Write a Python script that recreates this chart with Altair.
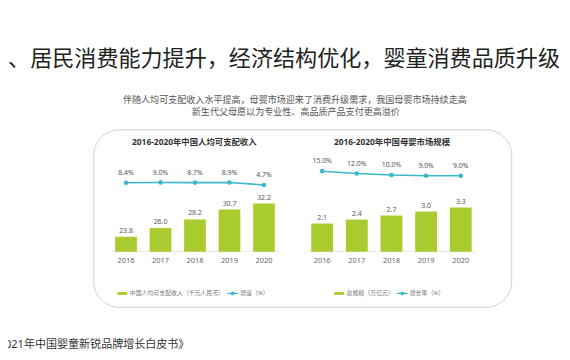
import altair as alt
import pandas as pd

# ---------------- data ----------------
years = ["2016", "2017", "2018", "2019", "2020"]
income = [23.8, 26.0, 28.2, 30.7, 32.2]          # 千元人民币
income_growth = [8.4, 9.0, 8.7, 8.9, 4.7]         # %
market = [2.1, 2.4, 2.7, 3.0, 3.3]                # 万亿元
market_growth = [15.0, 12.0, 10.0, 9.0, 9.0]      # %

title = "5、居民消费能力提升，经济结构优化，婴童消费品质升级"
subtitle = ["伴随人均可支配收入水平提高，母婴市场迎来了消费升级需求，我国母婴市场持续走高",
            "新生代父母愿以为专业性、高品质产品支付更高溢价"]
panel_titles = ["2016-2020年中国人均可支配收入", "2016-2020年中国母婴市场规模"]
legend_left = ["中国人均可支配收入（千元人民币）", "增速（%）"]
legend_right = ["总规模（万亿元）", "增长率（%）"]
source = "来源：《2021年中国婴童新锐品牌增长白皮书》"

# ---------------- style ----------------
GREEN = "#aacb2e"
TEAL = "#3bb7cc"
FONT = "Noto Sans, Noto Sans CJK SC, sans-serif"

left_df = pd.DataFrame({"year": years, "v": income, "g": income_growth})
left_df["vl"] = [f"{v:.1f}" for v in income]
left_df["gl"] = [f"{v:.1f}%" for v in income_growth]
right_df = pd.DataFrame({"year": years, "v": market, "g": market_growth})
right_df["vl"] = [f"{v:.1f}" for v in market]
right_df["gl"] = [f"{v:.1f}%" for v in market_growth]

one = pd.DataFrame({"k": [0]})


def txt(s, x, y, size, color="#333333", weight="normal", align="center"):
    return alt.Chart(one).mark_text(
        text=s, font=FONT, fontSize=size, color=color, fontWeight=weight,
        align=align, baseline="middle"
    ).encode(x=alt.value(x), y=alt.value(y))


def panel(df, xr, bar_dom, bar_rng, base, line_rng):
    xb = alt.X("year:O", axis=None,
               scale=alt.Scale(type="band", domain=years, range=xr,
                               paddingInner=0.37, paddingOuter=0.185))
    xp = alt.X("year:O", axis=None,
               scale=alt.Scale(type="point", domain=years, range=xr, padding=0.5))
    yb = alt.Y("v:Q", axis=None,
               scale=alt.Scale(domain=bar_dom, range=bar_rng, zero=False, nice=False))
    yl = alt.Y("g:Q", axis=None,
               scale=alt.Scale(domain=[0, 20], range=line_rng, zero=False, nice=False))
    c = alt.Chart(df)
    baseline = alt.Chart(one).mark_rule(color="#e8e8e8", strokeWidth=1).encode(
        x=alt.value(xr[0] + 2), x2=alt.value(xr[1] - 2),
        y=alt.value(bar_rng[0]))
    bars = c.mark_bar(color=GREEN).encode(x=xb, y=yb, y2=alt.datum(bar_dom[0]))
    bar_lab = c.mark_text(font=FONT, fontSize=7, color="#555555",
                          baseline="bottom", dy=-3).encode(x=xp, y=yb, text="vl:N")
    years_lab = c.mark_text(font=FONT, fontSize=7.5, color="#666666",
                            baseline="middle").encode(x=xp, y=alt.value(base), text="year:N")
    line = c.mark_line(color=TEAL, strokeWidth=1.6).encode(x=xp, y=yl)
    pts = c.mark_point(color=TEAL, filled=True, size=22, opacity=1).encode(x=xp, y=yl)
    line_lab = c.mark_text(font=FONT, fontSize=7, color="#555555",
                           baseline="middle", dy=-10).encode(x=xp, y=yl, text="gl:N")
    return [baseline, bars, bar_lab, years_lab, line, pts, line_lab]


# chart coordinates = page coordinates - 8 (page margin)
left_layers = panel(left_df, [102.2, 277.2], [20, 35], [244.7, 184.7], 253.7,
                    [179.8, 167.8])
right_layers = panel(right_df, [301.1, 476.9], [0, 4], [244.7, 190.3], 253.7,
                     [174.7, 159.1])

box = alt.Chart(one).mark_rect(
    fillOpacity=0, stroke="#cdd1cd", strokeWidth=1, cornerRadius=26
).encode(x=alt.value(87), x2=alt.value(511), y=alt.value(121), y2=alt.value(301))


def legend(x0, labels):
    sw = alt.Chart(one).mark_rect(color=GREEN).encode(
        x=alt.value(x0), x2=alt.value(x0 + 10), y=alt.value(285.5), y2=alt.value(288.5))
    t1 = txt(labels[0], x0 + 12.5, 287, 6, "#777777", align="left")
    lx = x0 + 12.5 + 6 * len(labels[0]) + 3
    ln = alt.Chart(one).mark_rule(color=TEAL, strokeWidth=1.2).encode(
        x=alt.value(lx), x2=alt.value(lx + 11), y=alt.value(287))
    dot = alt.Chart(one).mark_point(color=TEAL, filled=True, size=14, opacity=1).encode(
        x=alt.value(lx + 5.5), y=alt.value(287))
    t2 = txt(labels[1], lx + 13, 287, 6, "#777777", align="left")
    return [sw, t1, ln, dot, t2]


layers = [box]
layers += [txt(title, 560, 49, 22.4, "#222222", align="right")]
layers += [txt(subtitle[0], 291, 91, 9.2, "#555555"),
           txt(subtitle[1], 292, 103.5, 9.2, "#555555")]
layers += [txt(panel_titles[0], 189, 133, 8.5, "#333333", "bold"),
           txt(panel_titles[1], 389.5, 133, 8.5, "#333333", "bold")]
layers += left_layers + right_layers
layers += legend(111, legend_left) + legend(331, legend_right)
layers += [txt(source, 184, 339, 11.2, "#333333", align="right")]

chart = alt.layer(*layers).resolve_scale(
    x="independent", y="independent"
).properties(
    width=562, height=352,
    autosize=alt.AutoSizeParams(type="none"),
    padding=0,
    background="white",
).configure_view(stroke=None)

chart.save("out.html", embed_options={"renderer": "svg", "actions": False})
